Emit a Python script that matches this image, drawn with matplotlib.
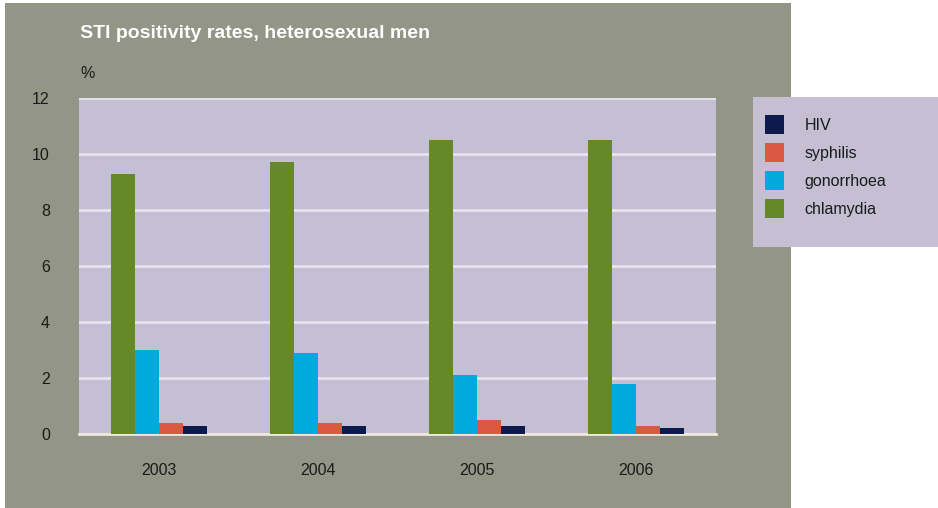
import matplotlib
matplotlib.use("Agg")
import matplotlib.pyplot as plt
from matplotlib.patches import Patch
import numpy as np

plt.rcParams['font.family'] = ['Liberation Sans', 'DejaVu Sans']

years = ['2003', '2004', '2005', '2006']
chlamydia = [9.3, 9.7, 10.5, 10.5]
gonorrhoea = [3.0, 2.9, 2.1, 1.8]
syphilis = [0.4, 0.4, 0.5, 0.3]
hiv = [0.3, 0.3, 0.3, 0.2]
y_ticks = [0, 2, 4, 6, 8, 10, 12]

series = [
    ('chlamydia', chlamydia, '#668827'),
    ('gonorrhoea', gonorrhoea, '#00AADD'),
    ('syphilis', syphilis, '#DA5943'),
    ('HIV', hiv, '#0C1A4E'),
]

W, H = 938, 508
fig = plt.figure(figsize=(W / 100, H / 100), dpi=100, facecolor='white')

panel = '#939587'
lavender = '#C4BFD2'
ink = '#1a1a1a'

# grey backdrop panel
bg = fig.add_axes([5 / W, 0, (791 - 5) / W, (508 - 3) / H], zorder=-2)
bg.set_facecolor(panel)
bg.set_xticks([]); bg.set_yticks([])
for s in bg.spines.values():
    s.set_visible(False)

# legend box
lg = fig.add_axes([753 / W, (H - 247) / H, (W - 753) / W, 150 / H], zorder=-1)
lg.set_facecolor(lavender)
lg.set_xticks([]); lg.set_yticks([])
for s in lg.spines.values():
    s.set_visible(False)

ax = fig.add_axes([79 / W, (H - 434) / H, 637 / W, 336 / H], zorder=1)
ax.set_facecolor(lavender)

x = np.arange(len(years))
bw = 0.1507
for i, (name, vals, col) in enumerate(series):
    ax.bar(x + (i - 1.5) * bw, vals, width=bw, color=col, zorder=3, label=name)

ax.set_xlim(-0.5, len(years) - 0.5)
ax.set_ylim(0, 12)
ax.set_yticks(y_ticks)
ax.set_yticklabels([str(t) for t in y_ticks], fontsize=11.5, color=ink)
ax.set_xticks(x)
ax.set_xticklabels(years, fontsize=11.5, color=ink)
ax.tick_params(axis='both', length=0)
ax.tick_params(axis='y', pad=21)
ax.tick_params(axis='x', pad=21)

ax.yaxis.grid(True, color='#E6E3EE', linewidth=2, zorder=1)
ax.set_axisbelow(True)
for s in ['left', 'right', 'top']:
    ax.spines[s].set_visible(False)
ax.spines['bottom'].set_color('#EEEADB')
ax.spines['bottom'].set_linewidth(2)

fig.text(80 / W, 1 - 33 / H, 'STI positivity rates, heterosexual men',
         fontsize=14, fontweight='bold', color='white', va='center', ha='left')
fig.text(80 / W, 1 - 73 / H, '%', fontsize=11.5, color=ink,
         va='center', ha='left')

handles = [Patch(facecolor=c, edgecolor='none') for _, _, c in series][::-1]
labels = [n for n, _, _ in series][::-1]
fig.legend(handles, labels, loc='upper left',
           bbox_to_anchor=(765 / W, 1 - 115 / H), frameon=False, borderpad=0,
           borderaxespad=0, fontsize=11.5, handlelength=1.19, handleheight=1.45,
           handletextpad=1.3, labelspacing=0.57, labelcolor=ink)

fig.savefig('out.png', dpi=100, facecolor='white')
